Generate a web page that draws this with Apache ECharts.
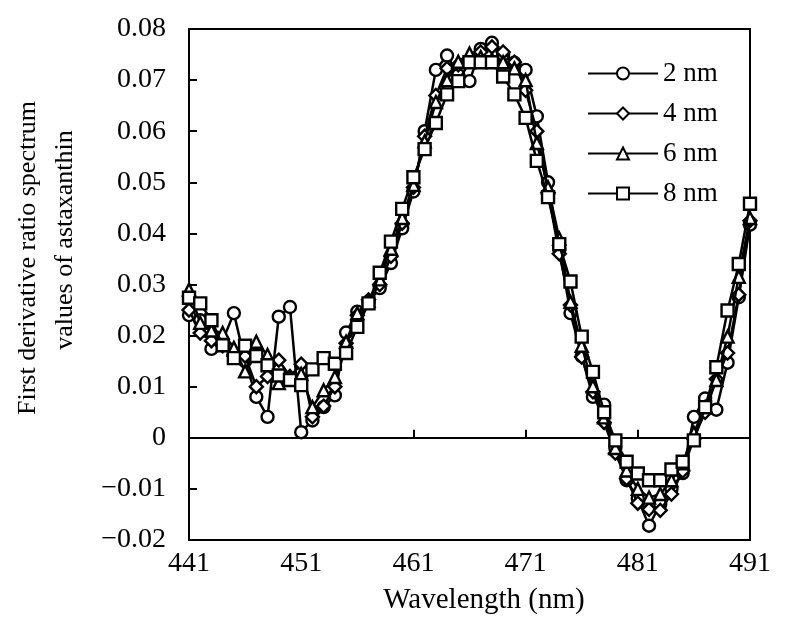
<!DOCTYPE html>
<html><head><meta charset="utf-8">
<script src="https://cdn.jsdelivr.net/npm/echarts@6/dist/echarts.min.js"></script>
<style>html,body{margin:0;padding:0;background:#fff}#c{width:800px;height:631px}</style>
</head><body><div id="c"></div>
<script>
// Wavelength (nm)
const wavelengths = [441,442,443,444,445,446,447,448,449,450,
  451,452,453,454,455,456,457,458,459,460,
  461,462,463,464,465,466,467,468,469,470,
  471,472,473,474,475,476,477,478,479,480,
  481,482,483,484,485,486,487,488,489,490,491];

const seriesNames = ['2 nm', '4 nm', '6 nm', '8 nm'];

const values2nm = [0.024,0.023,0.0174,0.019,0.0244,0.015,0.008,0.0041,0.0237,0.0256,
  0.0011,0.0034,0.006,0.0083,0.0206,0.0247,0.0265,0.0293,0.0342,0.041,
  0.0482,0.060,0.072,0.0748,0.071,0.0698,0.0761,0.0773,0.0750,0.0734,
  0.072,0.0629,0.050,0.037,0.0244,0.016,0.008,0.0065,-0.002,-0.0083,
  -0.0119,-0.0172,-0.013,-0.010,-0.0069,0.0041,0.0077,0.0055,0.0147,0.0275,0.0417];

const values4nm = [0.025,0.0205,0.019,0.018,0.016,0.016,0.010,0.012,0.0152,0.012,
  0.0144,0.0041,0.0062,0.010,0.0185,0.024,0.027,0.030,0.0355,0.042,
  0.049,0.059,0.067,0.0723,0.073,0.074,0.0755,0.0765,0.0755,0.0735,
  0.068,0.060,0.048,0.036,0.026,0.0158,0.009,0.003,-0.003,-0.008,
  -0.0128,-0.014,-0.0142,-0.011,-0.0065,0.0,0.005,0.0115,0.0166,0.028,0.0425];

const values6nm = [0.029,0.0225,0.021,0.0205,0.0176,0.013,0.0188,0.0162,0.0107,0.0119,
  0.0125,0.006,0.0093,0.0119,0.0188,0.0244,0.0268,0.031,0.037,0.043,
  0.0495,0.058,0.0657,0.070,0.0736,0.0752,0.0745,0.074,0.0735,0.0723,
  0.070,0.0577,0.049,0.039,0.0266,0.018,0.0101,0.004,-0.002,-0.0064,
  -0.010,-0.0117,-0.011,-0.0083,-0.005,0.001,0.006,0.0113,0.0198,0.0315,0.043];

const values8nm = [0.0274,0.0263,0.023,0.0181,0.0156,0.018,0.016,0.0142,0.0122,0.0113,
  0.0103,0.0134,0.0156,0.0145,0.0166,0.0217,0.0263,0.0323,0.0384,0.0448,
  0.051,0.0565,0.0616,0.0672,0.0698,0.0735,0.0735,0.0735,0.0707,0.0672,
  0.0626,0.0542,0.0471,0.0379,0.0306,0.0198,0.0129,0.005,-0.0005,-0.0047,
  -0.007,-0.0083,-0.0083,-0.0062,-0.0047,-0.0005,0.006,0.0138,0.0249,0.034,0.0458];

const symbols = ['circle', 'diamond', 'triangle', 'rect'];
const allValues = [values2nm, values4nm, values6nm, values8nm];

const FONT = '"Liberation Serif", "Times New Roman", serif';

function pairs(vals) { return vals.map((v, i) => [wavelengths[i], v]); }

const series = seriesNames.map((name, k) => ({
  name: name,
  type: 'line',
  data: pairs(allValues[k]),
  symbol: symbols[k],
  symbolSize: symbols[k] === 'rect' ? 12 : (symbols[k] === 'diamond' ? 13 : 12),
  showAllSymbol: true,
  lineStyle: { color: '#000', width: 2.5 },
  itemStyle: { color: '#fff', borderColor: '#000', borderWidth: 2.4 },
  emphasis: { disabled: true },
  z: 2 + k
}));

series[0].markLine = {
  silent: true, symbol: 'none', label: { show: false },
  lineStyle: { color: '#000', width: 1.2, type: 'solid' },
  data: [{ yAxis: 0 }]
};

const chart = echarts.init(document.getElementById('c'), null, { renderer: 'canvas' });
chart.setOption({
  animation: false,
  backgroundColor: '#fff',
  grid: { left: 189, right: 50, top: 29, bottom: 91, show: true, borderColor: '#000', borderWidth: 2, backgroundColor: 'transparent' },
  xAxis: {
    type: 'value', min: 441, max: 491, interval: 10,
    axisLine: { show: true, lineStyle: { color: '#000', width: 2 } },
    axisTick: { show: true, inside: true, length: 8, lineStyle: { color: '#000', width: 2 } },
    axisLabel: { color: '#000', fontFamily: FONT, fontSize: 28, margin: 10 },
    splitLine: { show: false }
  },
  yAxis: {
    type: 'value', min: -0.02, max: 0.08, interval: 0.01,
    axisLine: { show: true, lineStyle: { color: '#000', width: 2 } },
    axisTick: { show: true, inside: true, length: 8, lineStyle: { color: '#000', width: 2 } },
    axisLabel: {
      color: '#000', fontFamily: FONT, fontSize: 28, margin: 23,
      formatter: function (v) {
        if (Math.abs(v) < 1e-9) return '0';
        return v.toFixed(2).replace('-', '\u2212');
      }
    },
    splitLine: { show: false }
  },
  legend: {
    orient: 'vertical', left: 587, top: 60, padding: 0,
    itemWidth: 70, itemHeight: 15, itemGap: 13,
    data: seriesNames,
    textStyle: { color: '#000', fontFamily: FONT, fontSize: 27, lineHeight: 27 },
    selectedMode: false
  },
  graphic: [
    { type: 'text', x: 28, y: 258, rotation: Math.PI / 2,
      style: { text: 'First derivative ratio spectrum', fill: '#000', font: '26px ' + FONT, textAlign: 'center', textVerticalAlign: 'middle' } },
    { type: 'text', x: 65, y: 240, rotation: Math.PI / 2,
      style: { text: 'values of astaxanthin', fill: '#000', font: '26px ' + FONT, textAlign: 'center', textVerticalAlign: 'middle' } },
    { type: 'text', x: 484, y: 600,
      style: { text: 'Wavelength (nm)', fill: '#000', font: '29px ' + FONT, textAlign: 'center', textVerticalAlign: 'middle' } }
  ],
  series: series
});
</script>
</body></html>
